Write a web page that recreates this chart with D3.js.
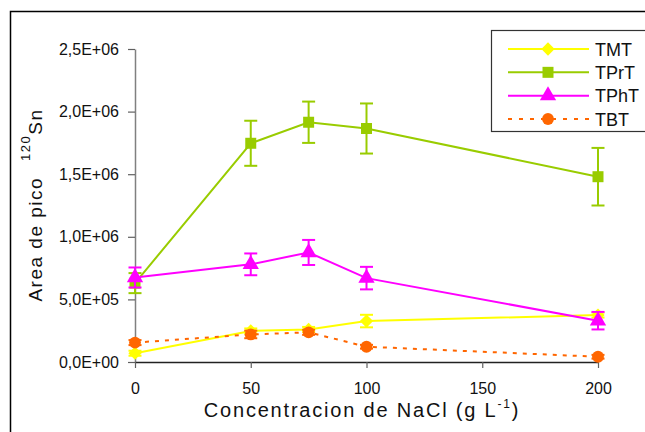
<!DOCTYPE html>
<html>
<head>
<meta charset="utf-8">
<script src="https://cdn.jsdelivr.net/npm/d3@7"></script>
<style>
  body { margin: 0; background: #fff; }
  svg { display: block; font-family: "Liberation Sans", Arial, sans-serif; }
</style>
</head>
<body>
<svg id="chart" width="645" height="432"></svg>
<script>
// NaCl concentration (g/L)
var nacl = [0, 50, 75, 100, 200];

// peak areas and error bars
var tmt     = [70000, 248000, 260000, 327000, 375000];
var tmtErr  = [20000, 20000, 20000, 50000, 20000];
var tprt    = [630000, 1747000, 1915000, 1865000, 1480000];
var tprtErr = [80000, 180000, 165000, 200000, 230000];
var tpht    = [675000, 780000, 875000, 670000, 330000];
var tphtErr = [80000, 87000, 100000, 90000, 70000];
var tbt     = [155000, 220000, 237000, 122000, 42000];
var tbtErr  = [20000, 30000, 20000, 15000, 15000];

var seriesNames = ["TMT", "TPrT", "TPhT", "TBT"];
var xTicks = [0, 50, 100, 150, 200];
var yTicks = [0, 500000, 1000000, 1500000, 2000000, 2500000];

// square diamond (excel style) = square turned 45 degrees
var series = [
  {name: "TMT",  values: tmt,  err: tmtErr,  color: "#ffff00", symbol: d3.symbolSquare,   size: 88,  rot: 45, dash: null},
  {name: "TPrT", values: tprt, err: tprtErr, color: "#99cc00", symbol: d3.symbolSquare,   size: 121, rot: 0,  dash: null},
  {name: "TPhT", values: tpht, err: tphtErr, color: "#ff00ff", symbol: d3.symbolTriangle, size: 115, rot: 0,  dash: null},
  {name: "TBT",  values: tbt,  err: tbtErr,  color: "#ff6600", symbol: d3.symbolCircle,   size: 110, rot: 0,  dash: "4,6"}
];

var svg = d3.select("#chart");

// outer frame (runs off the right and bottom edge)
svg.append("rect")
  .attr("x", 10.5).attr("y", 11.5)
  .attr("width", 700).attr("height", 500)
  .attr("fill", "none")
  .attr("stroke", "#000")
  .attr("stroke-width", 1.5);

var x = d3.scaleLinear().domain([0, 200]).range([135, 598]);
var y = d3.scaleLinear().domain([0, 2500000]).range([362, 49]);

function sciFmt(v) {
  if (v === 0) return "0,0E+00";
  var e = Math.floor(Math.log10(v));
  var m = (v / Math.pow(10, e)).toFixed(1).replace(".", ",");
  return m + "E+" + (e < 10 ? "0" + e : e);
}

// y axis
var yAxis = svg.append("g")
  .attr("transform", "translate(" + x(0) + ",0)")
  .call(d3.axisLeft(y).tickValues(yTicks).tickFormat(sciFmt).tickSize(7).tickSizeOuter(0).tickPadding(9));
yAxis.select(".domain").attr("stroke", "#808080").attr("stroke-width", 1.5);
yAxis.selectAll(".tick line").attr("stroke", "#606060").attr("stroke-width", 1.2);
yAxis.selectAll("text").attr("font-size", 16).attr("fill", "#111")
  .attr("font-family", "Liberation Sans, Arial, sans-serif");

// x axis
var xAxis = svg.append("g")
  .attr("transform", "translate(0," + y(0) + ")")
  .call(d3.axisBottom(x).tickValues(xTicks).tickSize(6).tickSizeOuter(0).tickPadding(15));
xAxis.select(".domain").attr("stroke", "#222").attr("stroke-width", 1.5);
xAxis.selectAll(".tick line").attr("stroke", "#606060").attr("stroke-width", 1.2);
xAxis.selectAll("text").attr("font-size", 16).attr("fill", "#111")
  .attr("font-family", "Liberation Sans, Arial, sans-serif");

// axis titles
var xt = svg.append("text")
  .attr("x", 362).attr("y", 417)
  .attr("text-anchor", "middle")
  .attr("font-size", 20)
  .attr("letter-spacing", 1.8)
  .attr("fill", "#111")
  .text("Concentracion de NaCl (g L");
xt.append("tspan").attr("font-size", 12).attr("dy", -9).text("-1");
xt.append("tspan").attr("dy", 9).text(")");

var yt = svg.append("text")
  .attr("transform", "translate(42,205) rotate(-90)")
  .attr("text-anchor", "middle")
  .attr("font-size", 19)
  .attr("letter-spacing", 1.5)
  .attr("fill", "#111")
  .text("Area de pico");
yt.append("tspan").attr("font-size", 13).attr("dx", 16).attr("dy", -12).text("120");
yt.append("tspan").attr("dy", 12).text("Sn");

var line = d3.line()
  .x(function(d) { return x(d[0]); })
  .y(function(d) { return y(d[1]); });

series.forEach(function(s) {
  var pts = nacl.map(function(n, i) { return [n, s.values[i], s.err[i]]; });
  var g = svg.append("g").attr("class", "series");

  g.append("path")
    .attr("d", line(pts))
    .attr("fill", "none")
    .attr("stroke", s.color)
    .attr("stroke-width", 2)
    .attr("stroke-dasharray", s.dash);

  // error bars
  var eb = g.selectAll("g.err").data(pts).enter().append("g")
    .attr("stroke", s.color).attr("stroke-width", 2);
  eb.append("line")
    .attr("x1", function(d) { return x(d[0]); })
    .attr("x2", function(d) { return x(d[0]); })
    .attr("y1", function(d) { return y(d[1] - d[2]); })
    .attr("y2", function(d) { return y(d[1] + d[2]); });
  [-1, 1].forEach(function(k) {
    eb.append("line")
      .attr("x1", function(d) { return x(d[0]) - 6.5; })
      .attr("x2", function(d) { return x(d[0]) + 6.5; })
      .attr("y1", function(d) { return y(d[1] + k * d[2]); })
      .attr("y2", function(d) { return y(d[1] + k * d[2]); });
  });

  g.selectAll("path.mk").data(pts).enter().append("path")
    .attr("class", "mk")
    .attr("transform", function(d) {
      return "translate(" + x(d[0]) + "," + y(d[1]) + ") rotate(" + s.rot + ")";
    })
    .attr("d", d3.symbol().type(s.symbol).size(s.size))
    .attr("fill", s.color);
});

// legend
var lg = svg.append("g");
lg.append("rect")
  .attr("x", 491.5).attr("y", 30.5)
  .attr("width", 160).attr("height", 101)
  .attr("fill", "#fff")
  .attr("stroke", "#333")
  .attr("stroke-width", 1.2);

var legY = d3.scalePoint().domain(seriesNames).range([49, 119]);

series.forEach(function(s) {
  var ly = legY(s.name);
  lg.append("line")
    .attr("x1", 508).attr("x2", 589)
    .attr("y1", ly).attr("y2", ly)
    .attr("stroke", s.color)
    .attr("stroke-width", 2)
    .attr("stroke-dasharray", s.dash ? "4,7" : null);
  lg.append("path")
    .attr("transform", "translate(548," + ly + ") rotate(" + s.rot + ")")
    .attr("d", d3.symbol().type(s.symbol).size(s.size))
    .attr("fill", s.color);
  lg.append("text")
    .attr("x", 595).attr("y", ly + 6.5)
    .attr("font-size", 18)
    .attr("fill", "#111")
    .text(s.name);
});
</script>
</body>
</html>
